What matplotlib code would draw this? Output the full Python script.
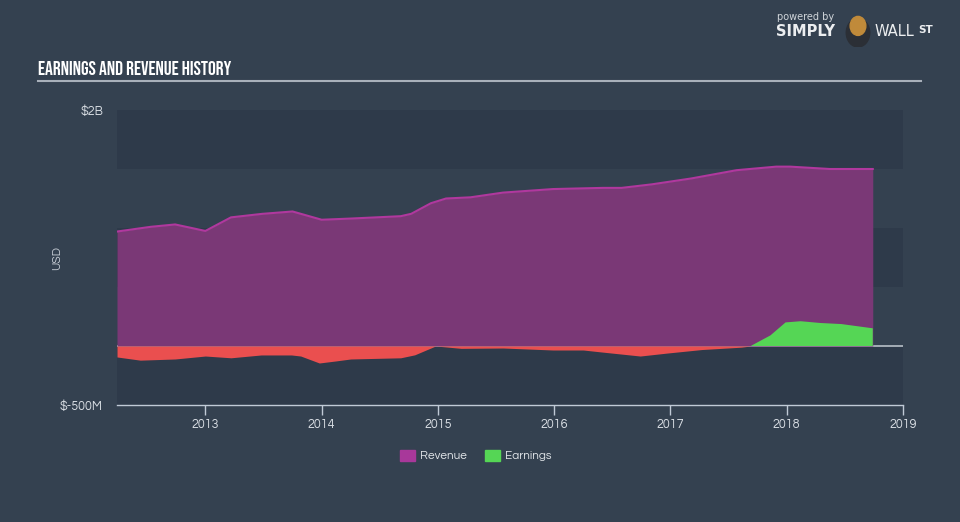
import matplotlib
matplotlib.use("Agg")
import matplotlib.pyplot as plt
import numpy as np

# Data (billions USD)
rev_x = [2012.24, 2012.53, 2012.74, 2013.0, 2013.22, 2013.49, 2013.75, 2014.0, 2014.25,
         2014.68, 2014.77, 2014.94, 2015.07, 2015.28, 2015.56, 2015.99, 2016.42, 2016.58,
         2016.84, 2017.18, 2017.57, 2017.91, 2018.03, 2018.37, 2018.74]
rev_y = [0.97, 1.01, 1.03, 0.975, 1.09, 1.12, 1.14, 1.07, 1.08,
         1.10, 1.12, 1.21, 1.25, 1.26, 1.30, 1.33, 1.34, 1.34,
         1.37, 1.42, 1.49, 1.52, 1.52, 1.50, 1.50]

earn_x = [2012.24, 2012.44, 2012.74, 2013.0, 2013.22, 2013.48, 2013.74, 2013.82, 2013.98,
          2014.12, 2014.25, 2014.68, 2014.8, 2014.98, 2015.2, 2015.56, 2015.99, 2016.25,
          2016.4, 2016.74, 2016.97, 2017.27, 2017.61, 2017.69, 2017.86, 2017.99, 2018.12,
          2018.29, 2018.47, 2018.74]
earn_y = [-0.093, -0.12, -0.11, -0.085, -0.10, -0.076, -0.076, -0.085, -0.144,
          -0.127, -0.11, -0.10, -0.075, 0.0, -0.02, -0.017, -0.034, -0.034,
          -0.05, -0.085, -0.06, -0.03, -0.01, 0.0, 0.09, 0.20, 0.21,
          0.195, 0.186, 0.15]

x_ticks = [2013, 2014, 2015, 2016, 2017, 2018, 2019]
y_tick_vals = [2.0, -0.5]
y_tick_labels = ["$2B", "$-500M"]

BG = "#344150"
DARK = "#2e3a4a"
UI = ["Questrial", "DejaVu Sans"]

fig = plt.figure(figsize=(9.6, 5.22), dpi=100)
fig.patch.set_facecolor(BG)
W, H = 960, 522
ax = fig.add_axes([117 / W, (H - 405) / H, (903 - 117) / W, (405 - 110) / H])
ax.set_facecolor(BG)
ax.set_xlim(2012.24, 2019.0)
ax.set_ylim(-0.5, 2.0)

# bands
for lo, hi in [(1.5, 2.0), (0.5, 1.0), (-0.5, 0.0)]:
    ax.axhspan(lo, hi, color=DARK, zorder=0, lw=0)

ax.axhline(0, color="#b8c0c8", lw=1.2, zorder=1)

rx = np.array(rev_x); ry = np.array(rev_y)
ax.fill_between(rx, 0, ry, color="#7a3876", zorder=2, lw=0)
ax.plot(rx, ry, color="#b0389e", lw=1.5, zorder=3)

ex = np.array(earn_x); ey = np.array(earn_y)
ax.fill_between(ex, 0, ey, where=ey <= 0, interpolate=True, color="#ea4f4f", zorder=4, lw=0)
ax.fill_between(ex, 0, ey, where=ey >= 0, interpolate=True, color="#55d655", zorder=4, lw=0)

for s in ["top", "right", "left"]:
    ax.spines[s].set_visible(False)
ax.spines["bottom"].set_color("#c0cad6")
ax.spines["bottom"].set_linewidth(1.0)
ax.set_xticks(x_ticks)
ax.set_xticklabels([str(t) for t in x_ticks], family=UI)
ax.tick_params(axis="x", colors="#c0cad6", length=7, width=1, labelcolor="#d8dde3",
               labelsize=9, pad=2)
ax.set_yticks(y_tick_vals)
ax.set_yticklabels(y_tick_labels, family=UI)
ax.tick_params(axis="y", length=0, labelcolor="#d8dde3", labelsize=9, pad=10)

fig.text(57 / W, 1 - 258 / H, "USD", rotation=90, color="#c8ced6", fontsize=8.5,
         family=UI, ha="center", va="center")

# Title
fig.text(38 / W, 1 - 68 / H, "EARNINGS AND REVENUE HISTORY", color="white", fontsize=14,
         family=["Bebas Neue", "DejaVu Sans"], ha="left", va="center")
fig.add_artist(plt.Line2D([38 / W, 921 / W], [1 - 81 / H, 1 - 81 / H], color="#a8b0ba", lw=1.5))

# Logo text
fig.text(777 / W, 1 - 17 / H, "powered by", color="#d0d5da", fontsize=7, family="DejaVu Sans",
         ha="left", va="center")
fig.text(776 / W, 1 - 32 / H, "SIMPLY", color="#eceef0", fontsize=10.5, fontweight="bold",
         family="DejaVu Sans", ha="left", va="center")
fig.text(875 / W, 1 - 32 / H, "WALL", color="#eceef0", fontsize=10.5,
         family="DejaVu Sans", ha="left", va="center")
fig.text(918 / W, 1 - 30 / H, "ST", color="#eceef0", fontsize=7.5, fontweight="bold",
         family="DejaVu Sans", ha="left", va="center")
logo = fig.add_axes([844 / W, 1 - 47 / H, 28 / W, 34 / H])
logo.set_axis_off()
logo.add_patch(plt.Circle((0.5, 0.42), 0.42, color="#2b2f36"))
logo.add_patch(plt.Circle((0.5, 0.62), 0.28, color="#c08a3a"))
logo.set_xlim(0, 1); logo.set_ylim(0, 1)

# Legend
fig.patches.append(plt.Rectangle((400 / W, 1 - 461 / H), 15 / W, 11 / H, color="#a8389a",
                                 transform=fig.transFigure, figure=fig))
fig.text(420 / W, 1 - 456 / H, "Revenue", color="#e0e4e8", fontsize=8.5, family=UI,
         ha="left", va="center")
fig.patches.append(plt.Rectangle((485 / W, 1 - 461 / H), 15 / W, 11 / H, color="#55d655",
                                 transform=fig.transFigure, figure=fig))
fig.text(505 / W, 1 - 456 / H, "Earnings", color="#e0e4e8", fontsize=8.5, family=UI,
         ha="left", va="center")

fig.savefig("out.png", dpi=100, facecolor=BG)
